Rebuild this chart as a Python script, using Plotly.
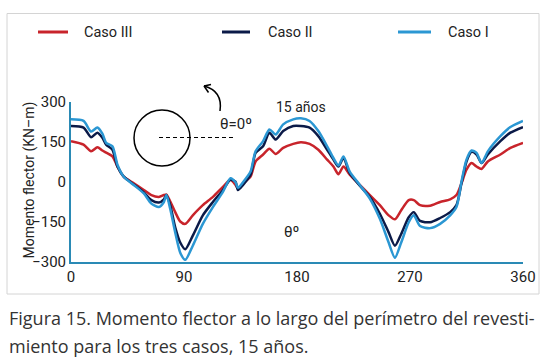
import plotly.graph_objects as go

# ---------------- data ----------------
THETA = [0, 10, 16, 21, 25, 28, 33, 37, 42, 50,
         58, 64, 70, 74, 76, 79, 83, 87, 91, 97,
         105, 113, 121, 127, 131, 133, 137, 143, 147, 153,
         158, 163, 169, 177, 183, 190, 197, 204, 209, 213,
         217, 222, 230, 238, 246, 253, 258, 263, 269, 273,
         278, 286, 294, 302, 307, 311, 315, 319, 323, 327,
         332, 342, 350, 360]

CASO_I = [235, 229, 189, 204, 181, 147, 134, 65, 20, -11,
          -43, -81, -94, -75, -49, -100, -189, -265, -292, -239,
          -157, -94, -37, 14, -1, -22, -1, 39, 115, 153,
          197, 178, 216, 235, 239, 229, 191, 134, 90, 62,
          96, 39, -11, -62, -138, -227, -284, -227, -151, -125,
          -165, -173, -157, -125, -94, 1, 84, 118, 109, 71,
          115, 172, 206, 229]

CASO_II = [210, 204, 168, 185, 166, 140, 121, 58, 20, -9,
           -39, -68, -77, -65, -49, -87, -170, -227, -252, -201,
           -125, -75, -30, 8, 1, -30, -11, 27, 109, 134,
           185, 159, 191, 210, 210, 204, 172, 121, 84, 58,
           90, 33, -14, -56, -119, -189, -239, -195, -132, -113,
           -146, -151, -135, -113, -87, -5, 77, 113, 103, 71,
           103, 153, 185, 206]

CASO_III = [153, 140, 115, 130, 118, 110, 96, 58, 20, -5,
            -30, -49, -56, -49, -47, -72, -113, -148, -157, -125,
            -87, -56, -18, 8, -11, -24, -5, 20, 77, 103,
            125, 105, 128, 143, 149, 143, 121, 84, 58, 29,
            58, 27, -11, -49, -87, -125, -140, -106, -68, -68,
            -87, -89, -75, -65, -49, -5, 46, 71, 58, 49,
            77, 103, 128, 147]

X_TICKS = [0, 90, 180, 270, 360]
Y_TICKS = [-300, -150, 0, 150, 300]
SERIES_NAMES = ["Caso III", "Caso II", "Caso I"]
SERIES_COLORS = ["#c8242b", "#0b1a48", "#2b97d3"]

# ---------------- layout geometry ----------------
W, H = 552, 363
L, R, T, B = 71, 523, 102, 262
AXIS_COLOR = "#2a8ab5"
TXT = "#222222"
COND = "Roboto, Liberation Sans, sans-serif"
CAP = "Open Sans, Noto Sans, sans-serif"


def pxp(x):
    return (x - L) / (R - L)


def pyp(y):
    return (B - y) / (B - T)


fig = go.Figure()
for name, vals, col in zip(SERIES_NAMES, [CASO_III, CASO_II, CASO_I], SERIES_COLORS):
    fig.add_trace(go.Scatter(x=THETA, y=vals, mode="lines", name=name,
                             line=dict(color=col, width=2.5, shape="spline", smoothing=0.7),
                             showlegend=False))

shapes = []
annotations = []

# frame
shapes.append(dict(type="rect", xref="paper", yref="paper",
                   x0=pxp(7), x1=pxp(539), y0=pyp(294), y1=pyp(13.5),
                   line=dict(color="#d4d4d4", width=1), layer="below"))

# legend (manual)
leg = [(38, 68, 82), (222, 250, 266), (398, 431, 446)]
for (x0, x1, tx), name, col in zip(leg, SERIES_NAMES, SERIES_COLORS):
    shapes.append(dict(type="line", xref="paper", yref="paper",
                       x0=pxp(x0), x1=pxp(x1), y0=pyp(32), y1=pyp(32),
                       line=dict(color=col, width=3)))
    annotations.append(dict(xref="paper", yref="paper", x=pxp(tx), y=pyp(32),
                            text=name, showarrow=False, xanchor="left", yanchor="middle",
                            font=dict(family=COND, size=14.5, color=TXT)))

# circle + dashed radius
shapes.append(dict(type="circle", xref="paper", yref="paper",
                   x0=pxp(134), x1=pxp(190), y0=pyp(166), y1=pyp(110),
                   line=dict(color="black", width=1.5)))
shapes.append(dict(type="line", xref="paper", yref="paper",
                   x0=pxp(159), x1=pxp(234), y0=pyp(137.5), y1=pyp(137.5),
                   line=dict(color="black", width=1.2, dash="4px,3px")))

# curved arrow
p0 = (220, 111); c = (223, 91); p1 = (204, 86)
shapes.append(dict(type="path", xref="paper", yref="paper",
                   path="M %f,%f Q %f,%f %f,%f" % (pxp(p0[0]), pyp(p0[1]), pxp(c[0]), pyp(c[1]),
                                                   pxp(p1[0]), pyp(p1[1])),
                   line=dict(color="black", width=1.5)))
for hx, hy in [(208.5, 92.5), (211, 84.5)]:
    shapes.append(dict(type="line", xref="paper", yref="paper",
                       x0=pxp(p1[0]), y0=pyp(p1[1]), x1=pxp(hx), y1=pyp(hy),
                       line=dict(color="black", width=1.5)))

# texts
annotations.append(dict(xref="paper", yref="paper", x=pxp(218), y=pyp(113), text="θ=0º",
                        showarrow=False, font=dict(family=COND, size=15, color=TXT)))
annotations.append(dict(xref="paper", yref="paper", x=pxp(301), y=pyp(97), text="15 años",
                        showarrow=False, font=dict(family=COND, size=14, color=TXT)))
annotations.append(dict(xref="paper", yref="paper", x=pxp(291.5), y=pyp(242.5), text="θº",
                        showarrow=False, font=dict(family=COND, size=15, color=TXT)))
annotations.append(dict(xref="paper", yref="paper", x=pxp(18), y=pyp(180),
                        text="Momento flector (KN–m)", textangle=-90, showarrow=False,
                        font=dict(family=COND, size=14, color=TXT)))

# caption
annotations.append(dict(xref="paper", yref="paper", x=pxp(7), y=pyp(318),
                        text="Figura 15. Momento flector a lo largo del perímetro del revesti-",
                        showarrow=False, xanchor="left", yanchor="middle",
                        font=dict(family=CAP, size=18, color="#333333")))
annotations.append(dict(xref="paper", yref="paper", x=pxp(7), y=pyp(346),
                        text="miento para los tres casos, 15 años.",
                        showarrow=False, xanchor="left", yanchor="middle",
                        font=dict(family=CAP, size=18, color="#333333")))

fig.update_layout(
    width=W, height=H,
    margin=dict(l=L, r=W - R, t=T, b=H - B, autoexpand=False),
    paper_bgcolor="white", plot_bgcolor="white",
    shapes=shapes, annotations=annotations,
    xaxis=dict(range=[0, 360], tickvals=X_TICKS, showgrid=False, zeroline=False,
               showline=True, linecolor=AXIS_COLOR, linewidth=2, ticks="",
               tickfont=dict(family=COND, size=15, color=TXT)),
    yaxis=dict(range=[-300, 300], tickvals=Y_TICKS, showgrid=False, zeroline=False,
               showline=True, linecolor=AXIS_COLOR, linewidth=2, ticks="",
               tickfont=dict(family=COND, size=15, color=TXT)),
)

fig.write_html("out.html",
               config={"displayModeBar": False},
               post_script="document.body.style.margin='0';document.body.style.overflow='hidden';")
